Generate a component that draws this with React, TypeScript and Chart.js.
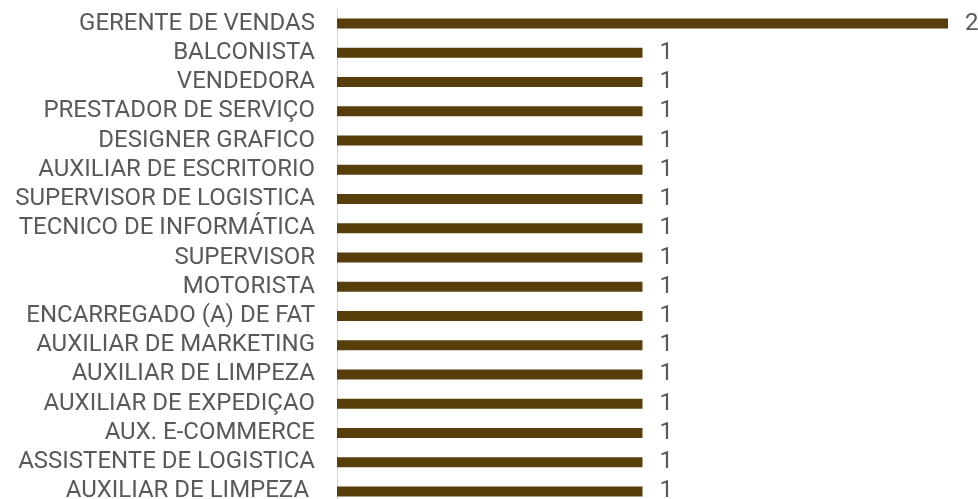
import React, { useEffect, useRef } from "react";
import { Chart, registerables } from "chart.js";

Chart.register(...registerables);

const categories: string[] = [
  "GERENTE DE VENDAS",
  "BALCONISTA",
  "VENDEDORA",
  "PRESTADOR DE SERVIÇO",
  "DESIGNER GRAFICO",
  "AUXILIAR DE ESCRITORIO",
  "SUPERVISOR DE LOGISTICA",
  "TECNICO DE INFORMÁTICA",
  "SUPERVISOR",
  "MOTORISTA",
  "ENCARREGADO (A) DE FAT",
  "AUXILIAR DE MARKETING",
  "AUXILIAR DE LIMPEZA",
  "AUXILIAR DE EXPEDIÇAO",
  "AUX. E-COMMERCE",
  "ASSISTENTE DE LOGISTICA",
  "AUXILIAR DE LIMPEZA ",
];

const values: number[] = [2, 1, 1, 1, 1, 1, 1, 1, 1, 1, 1, 1, 1, 1, 1, 1, 1];

const BAR_COLOR = "rgb(88,62,10)";
const TEXT_COLOR = "#595959";
const FONT_FAMILY = "Roboto, 'Noto Sans', sans-serif";
const FONT_SIZE = 24;

const valueLabels = {
  id: "valueLabels",
  afterDatasetsDraw(chart: any) {
    const ctx = chart.ctx;
    const meta = chart.getDatasetMeta(0);
    ctx.save();
    ctx.fillStyle = TEXT_COLOR;
    ctx.font = `${FONT_SIZE}px ${FONT_FAMILY}`;
    ctx.textAlign = "left";
    ctx.textBaseline = "middle";
    meta.data.forEach((el: any, i: number) => {
      ctx.fillText(String(values[i]), el.x + 17, el.y);
    });
    ctx.restore();
  },
};

export default function App() {
  const ref = useRef<HTMLCanvasElement | null>(null);
  useEffect(() => {
    if (!ref.current) return;
    const chart = new Chart(ref.current, {
      type: "bar",
      data: {
        labels: categories,
        datasets: [
          {
            data: values,
            backgroundColor: BAR_COLOR,
            borderWidth: 0,
            barPercentage: 0.342,
            categoryPercentage: 1,
          },
        ],
      },
      options: {
        indexAxis: "y",
        animation: false,
        responsive: false,
        maintainAspectRatio: false,
        layout: { padding: { top: 9, right: 30, left: 0, bottom: 0 } },
        plugins: {
          legend: { display: false },
          tooltip: { enabled: false },
          title: { display: false },
        },
        scales: {
          x: {
            display: false,
            min: 0,
            max: 2,
          },
          y: {
            afterFit(scale: any) {
              scale.width = 337;
              scale.paddingTop = 0;
              scale.paddingBottom = 0;
            },
            grid: { display: false, drawTicks: false },
            border: { display: true, color: "#d9d9d9", width: 1 },
            ticks: {
              color: TEXT_COLOR,
              padding: 22,
              font: { size: FONT_SIZE, family: FONT_FAMILY },
              autoSkip: false,
            },
          },
        },
      },
      plugins: [valueLabels],
    });
    return () => chart.destroy();
  }, []);
  return (
    <div style={{ position: "absolute", left: 0, top: 0, width: 978, height: 506 }}>
      <canvas ref={ref} width={978} height={506} style={{ width: 978, height: 506 }} />
    </div>
  );
}
